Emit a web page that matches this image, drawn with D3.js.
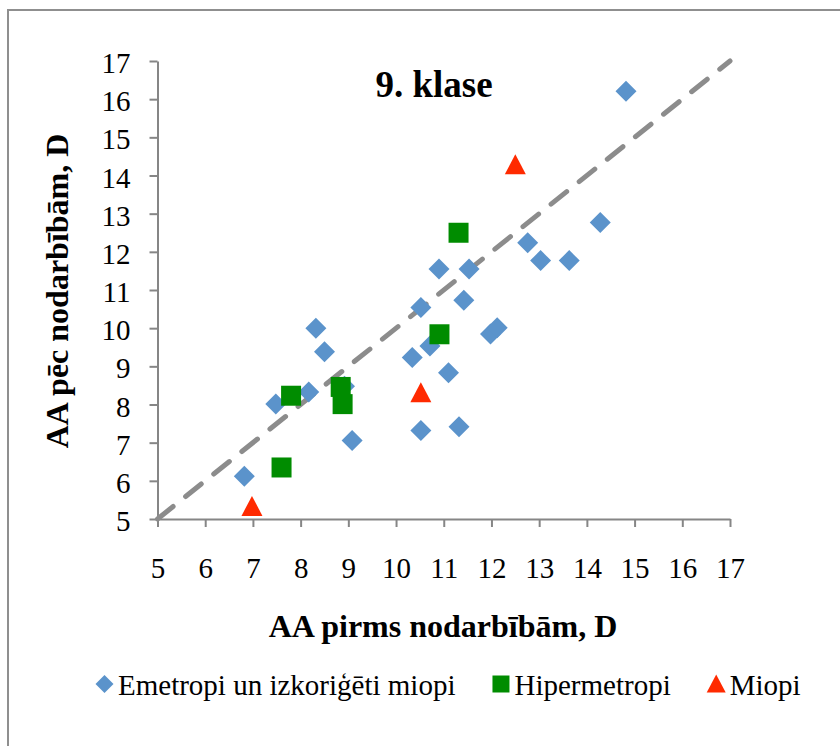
<!DOCTYPE html>
<meta charset="utf-8">
<script src="https://d3js.org/d3.v7.min.js"></script>
<style>
  body { margin: 0; background: #fff; }
</style>
<div id="chart"></div>
<script>
// 9. klase - AA before / after
var emX = [6.82, 7.48, 8.17, 8.32, 8.5, 8.92, 9.08, 10.34, 10.52, 10.52, 10.71, 10.9, 11.1, 11.32, 11.42, 11.53, 11.98, 12.12, 12.76, 13.03, 13.63, 14.28, 14.82];
var emY = [6.12, 8.01, 8.33, 10.0, 9.38, 8.48, 7.06, 9.23, 10.54, 7.32, 9.53, 11.55, 8.83, 7.42, 10.73, 11.55, 9.85, 10.01, 12.24, 11.77, 11.77, 12.77, 16.21];
var hyX = [7.6, 7.8, 8.84, 8.88, 10.91, 11.31];
var hyY = [6.35, 8.23, 8.46, 8.01, 9.84, 12.5];
var miX = [6.98, 10.52, 12.5];
var miY = [5.33, 8.31, 14.28];
var ticks = [5, 6, 7, 8, 9, 10, 11, 12, 13, 14, 15, 16, 17];
var seriesNames = ["Emetropi un izkoriģēti miopi", "Hipermetropi", "Miopi"];

var W = 840, H = 746;
var font = "Liberation Serif";

var svg = d3.select("#chart").append("svg")
  .attr("width", W).attr("height", H);

svg.append("rect")
  .attr("x", 8).attr("y", 10)
  .attr("width", 900).attr("height", 900)
  .attr("fill", "none").attr("stroke", "#8f8f8f").attr("stroke-width", 2);

var x = d3.scaleLinear().domain([5, 17]).range([157.5, 730]);
var y = d3.scaleLinear().domain([5, 17]).range([519, 61]);

var axisColor = "#868686";

// axes
var gx = svg.append("g").attr("transform", "translate(0," + y(5) + ")")
  .call(d3.axisBottom(x).tickValues(ticks).tickSize(8).tickSizeOuter(0));
var gy = svg.append("g").attr("transform", "translate(" + x(5) + ",0)")
  .call(d3.axisLeft(y).tickValues(ticks).tickSize(8).tickSizeOuter(0));

[gx, gy].forEach(function(g) {
  g.select(".domain").attr("stroke", axisColor).attr("stroke-width", 2);
  g.selectAll(".tick line").attr("stroke", axisColor).attr("stroke-width", 2);
  g.selectAll(".tick text").attr("font-size", 29).attr("fill", "#000")
    .style("font-family", font);
});
gx.selectAll(".tick text").attr("y", 59).attr("dy", 0);
gy.selectAll(".tick text").attr("x", -27).attr("dy", "0.4em");

// diagonal reference line
svg.append("line")
  .attr("x1", x(5)).attr("y1", y(5)).attr("x2", x(17)).attr("y2", y(17))
  .attr("stroke", "#8c8c8c").attr("stroke-width", 5)
  .attr("stroke-linecap", "round").attr("stroke-dasharray", "20,16");

// markers
var blue = "#5b93cb", green = "#008c00", red = "#ff2a00";
function diamond(s) { var h = s / 2; return "M0," + (-h) + "L" + h + ",0L0," + h + "L" + (-h) + ",0Z"; }
function square(s) { var h = s / 2; return "M" + (-h) + "," + (-h) + "h" + s + "v" + s + "h" + (-s) + "Z"; }
function triangle(s) { var h = s / 2; return "M0," + (-h) + "L" + h + "," + (h - 1) + "L" + (-h) + "," + (h - 1) + "Z"; }

svg.append("g").selectAll("path").data(d3.range(emX.length)).enter().append("path")
  .attr("d", diamond(21)).attr("fill", blue)
  .attr("transform", function(i) { return "translate(" + x(emX[i]) + "," + y(emY[i]) + ")"; });
svg.append("g").selectAll("path").data(d3.range(hyX.length)).enter().append("path")
  .attr("d", square(20)).attr("fill", green)
  .attr("transform", function(i) { return "translate(" + x(hyX[i]) + "," + y(hyY[i]) + ")"; });
svg.append("g").selectAll("path").data(d3.range(miX.length)).enter().append("path")
  .attr("d", triangle(21)).attr("fill", red)
  .attr("transform", function(i) { return "translate(" + x(miX[i]) + "," + y(miY[i]) + ")"; });

// titles
svg.append("text").attr("x", 434).attr("y", 97)
  .attr("text-anchor", "middle").attr("font-size", 37).attr("font-weight", "bold")
  .style("font-family", font).text("9. klase");
svg.append("text").attr("x", 443).attr("y", 637)
  .attr("text-anchor", "middle").attr("font-size", 32).attr("font-weight", "bold")
  .style("font-family", font).text("AA pirms nodarbībām, D");
svg.append("text").attr("transform", "translate(68,291) rotate(-90)")
  .attr("text-anchor", "middle").attr("font-size", 32).attr("font-weight", "bold")
  .style("font-family", font).text("AA pēc nodarbībām, D");

// legend
var legendShapes = [diamond(18), square(17), triangle(19)];
var legendColors = [blue, green, red];
var lx = 96, ly = 695;
seriesNames.forEach(function(name, i) {
  svg.append("path").attr("d", legendShapes[i]).attr("fill", legendColors[i])
    .attr("transform", "translate(" + (lx + 8.5) + "," + (ly - 11) + ")");
  var t = svg.append("text")
    .attr("x", lx + 22).attr("y", ly)
    .attr("font-size", 29).style("font-family", font).text(name);
  lx += 22 + t.node().getComputedTextLength() + 37;
});
</script>
